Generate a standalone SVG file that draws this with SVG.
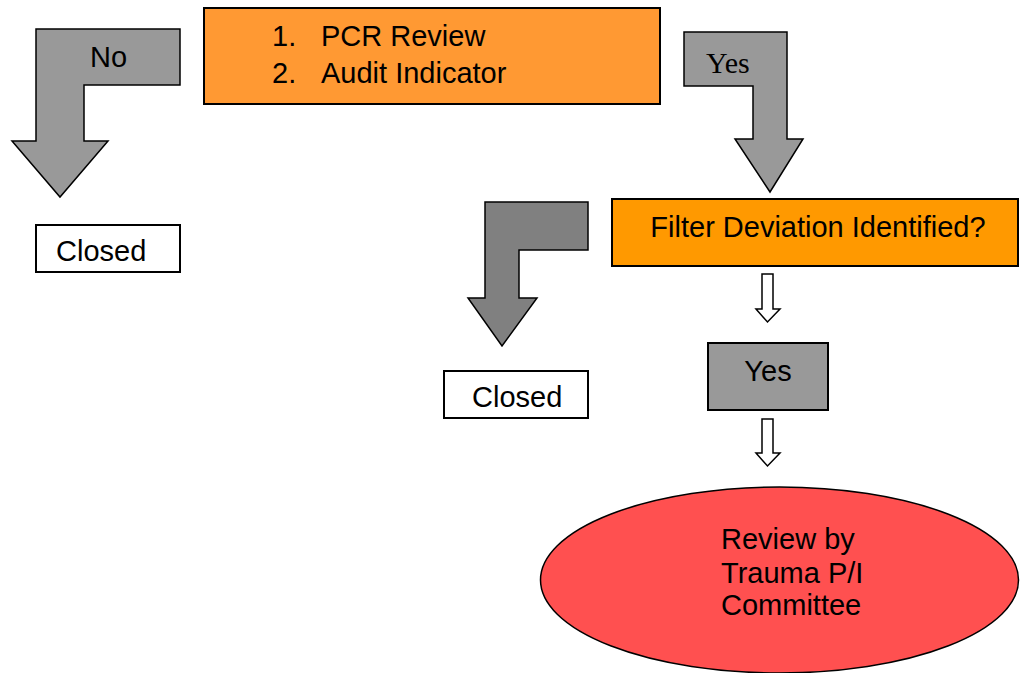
<svg xmlns="http://www.w3.org/2000/svg" width="1020" height="673" viewBox="0 0 1020 673">
<style>
  .t { font-family: "Liberation Sans", Arial, sans-serif; font-size: 29px; fill: #000; }
  .ts { font-family: "Liberation Serif", "Times New Roman", serif; font-size: 30px; fill: #000; }
  .bx { stroke: #000; stroke-width: 2; }
  .ar { stroke: #000; stroke-width: 1.5; stroke-linejoin: miter; }
  .wa { fill: #fff; stroke: #000; stroke-width: 1.5; }
</style>
<rect width="1020" height="673" fill="#fff"/>
<g id="connectors">
  <polygon class="ar" fill="#999999" points="36,29 180,29 180,85 84,85 84,141 108,141 60,197 12,141 36,141"/>
  <polygon class="ar" fill="#999999" points="684,32 787,32 787,139 803,139 770,192 735,139 753,139 753,86 684,86"/>
  <polygon class="ar" fill="#808080" points="485,202 588,202 588,250 519,250 519,298 537,298 502,346 468,298 485,298"/>
  <polygon class="wa" points="762,274 773,274 773,309 780,309 767.5,322 756,309 762,309"/>
  <polygon class="wa" points="762,419 773,419 773,453 780,453 767.5,466 756,453 762,453"/>
</g>
<g id="no-label"><text class="t" x="90" y="67">No</text></g>
<g id="yes-label"><text class="ts" x="706" y="73">Yes</text></g>
<g id="review-box">
  <rect class="bx" x="204" y="8" width="456" height="96" fill="#FF9933"/>
  <text class="t" x="272" y="46">1.</text>
  <text class="t" x="321" y="46">PCR Review</text>
  <text class="t" x="272" y="83">2.</text>
  <text class="t" x="321" y="83">Audit Indicator</text>
</g>
<g id="closed-1">
  <rect class="bx" x="36" y="225" width="144" height="47" fill="#fff"/>
  <text class="t" x="56" y="261">Closed</text>
</g>
<g id="filter-box">
  <rect class="bx" x="612" y="199" width="406" height="67" fill="#FF9900"/>
  <text class="t" x="818" y="237" text-anchor="middle">Filter Deviation Identified?</text>
</g>
<g id="closed-2">
  <rect class="bx" x="444" y="371" width="144" height="47" fill="#fff"/>
  <text class="t" x="472" y="407">Closed</text>
</g>
<g id="yes-box">
  <rect class="bx" x="708" y="343" width="120" height="67" fill="#999999"/>
  <text class="t" x="768" y="381" text-anchor="middle">Yes</text>
</g>
<g id="committee">
  <ellipse cx="779.5" cy="580" rx="239" ry="93" fill="#FF5050" stroke="#000" stroke-width="1.5"/>
  <text class="t" x="721" y="549">Review by</text>
  <text class="t" x="721" y="583">Trauma P/I</text>
  <text class="t" x="721" y="615">Committee</text>
</g>
</svg>
